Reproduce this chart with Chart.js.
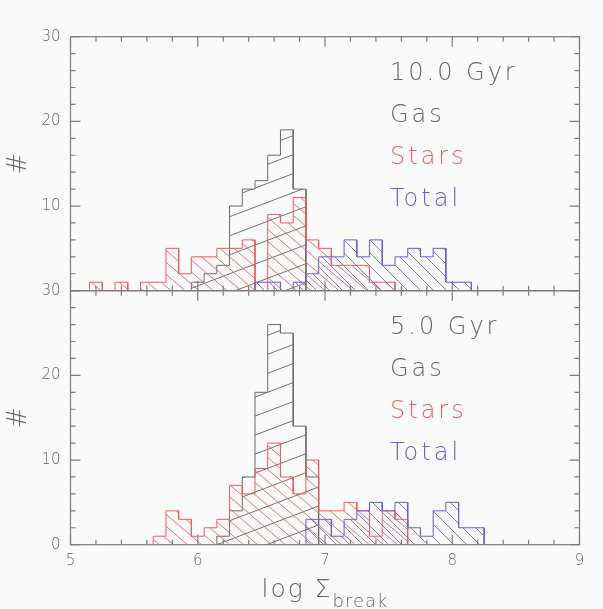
<!DOCTYPE html>
<html>
<head>
<meta charset="utf-8">
<script src="https://cdn.jsdelivr.net/npm/chart.js@4.4.1/dist/chart.umd.min.js"></script>
<style>
  html, body { margin: 0; padding: 0; background: #fafafa; }
  #wrap { position: relative; width: 603px; height: 609px; overflow: hidden; font-family: "DejaVu Sans", sans-serif; }
  #wrap canvas { position: absolute; left: 0; top: 0; }
  .lbl { position: absolute; left: 390px; font-size: 24px; line-height: 24px; letter-spacing: 3px; white-space: nowrap; font-weight: 200; }
  .gas { color: #666; }
  .stars { color: #f06060; }
  .total { color: #6060e6; }
  #xtitle { position: absolute; left: 325px; top: 576px; transform: translateX(-50%); font-size: 25px; line-height: 25px; color: #666; letter-spacing: 2px; white-space: nowrap; font-weight: 200; }
  #xtitle sub { font-size: 18px; vertical-align: -10px; letter-spacing: 1px; }
</style>
</head>
<body>
<div id="wrap">
  <canvas id="topChart" width="603" height="609"></canvas>
  <canvas id="bottomChart" width="603" height="609"></canvas>

  <div class="lbl gas" style="top:60px">10.0 Gyr</div>
  <div class="lbl gas" style="top:102px">Gas</div>
  <div class="lbl stars" style="top:144px">Stars</div>
  <div class="lbl total" style="top:186px">Total</div>

  <div class="lbl gas" style="top:314px">5.0 Gyr</div>
  <div class="lbl gas" style="top:356px">Gas</div>
  <div class="lbl stars" style="top:398px">Stars</div>
  <div class="lbl total" style="top:440px">Total</div>

  <div id="xtitle">log Σ<sub>break</sub></div>
</div>

<script>
// left edges of the histogram bins (width 0.1 in log Sigma)
const binLeft = [5.15, 5.25, 5.35, 5.45, 5.55, 5.65, 5.75, 5.85, 5.95, 6.05,
                 6.15, 6.25, 6.35, 6.45, 6.55, 6.65, 6.75, 6.85, 6.95, 7.05,
                 7.15, 7.25, 7.35, 7.45, 7.55, 7.65, 7.75, 7.85, 7.95, 8.05, 8.15];
const binWidth = 0.1;

// 10.0 Gyr panel
const gas10   = [0, 0, 0, 0, 0, 0, 0, 0, 1, 2, 3, 10, 12, 13, 16, 19, 12, 0, 0, 0, 0, 0, 0, 0, 0, 0, 0, 0, 0, 0, 0];
const stars10 = [1, 0, 1, 0, 1, 1, 5, 2, 4, 4, 5, 5, 6, 0, 9, 8, 11, 6, 5, 3, 3, 3, 1, 1, 0, 0, 0, 0, 0, 0, 0];
const total10 = [0, 0, 0, 0, 0, 0, 0, 0, 0, 0, 0, 0, 0, 1, 1, 0, 1, 2, 4, 4, 6, 4, 6, 3, 4, 5, 4, 5, 1, 1, 0];

// 5.0 Gyr panel
const gas5    = [0, 0, 0, 0, 0, 0, 0, 0, 0, 0, 1, 4, 8, 18, 26, 25, 14, 8, 0, 0, 0, 0, 0, 0, 0, 0, 0, 0, 0, 0, 0];
const stars5  = [0, 0, 0, 0, 0, 1, 4, 3, 1, 2, 3, 7, 6, 9, 12, 8, 6, 10, 4, 4, 5, 4, 1, 4, 3, 0, 0, 0, 0, 0, 0];
const total5  = [0, 0, 0, 0, 0, 0, 0, 0, 0, 0, 0, 0, 0, 0, 0, 0, 0, 3, 3, 1, 3, 4, 5, 4, 5, 2, 1, 4, 5, 2, 2];

const xTickLabels = [5, 6, 7, 8, 9];
const yTickLabels = [0, 10, 20, 30];

// histogram outline: two points per bin so the line goes up/down at bin edges
function outline(counts) {
    const first = counts.findIndex(v => v > 0);
    let last = counts.length - 1;
    while (counts[last] === 0) last--;
    const pts = [{ x: binLeft[first], y: 0 }];
    for (let i = first; i <= last; i++) {
        pts.push({ x: binLeft[i], y: counts[i] });
        pts.push({ x: binLeft[i] + binWidth, y: counts[i] });
    }
    pts.push({ x: binLeft[last] + binWidth, y: 0 });
    return pts;
}

// diagonal hatch fill, dir > 0 rises to the right
function hatch(ctx, color, w, h, dir) {
    const c = document.createElement('canvas');
    c.width = w; c.height = h;
    const g = c.getContext('2d');
    g.strokeStyle = color;
    g.lineWidth = 1;
    for (const off of [-h, 0, h]) {
        g.beginPath();
        if (dir > 0) { g.moveTo(0, h + off); g.lineTo(w, off); }
        else { g.moveTo(0, off); g.lineTo(w, h + off); }
        g.stroke();
    }
    return ctx.createPattern(c, 'repeat');
}

// box with inward ticks on all four sides
const framePlugin = {
    id: 'frame',
    afterDatasetsDraw(chart) {
        const { ctx, chartArea: a } = chart;
        const x = chart.scales.x, y = chart.scales.y;
        ctx.save();
        ctx.strokeStyle = '#7c7c7c';
        ctx.lineWidth = 1.2;
        ctx.strokeRect(a.left, a.top, a.right - a.left, a.bottom - a.top);
        ctx.beginPath();
        for (let k = 0; k <= 20; k++) {
            const px = x.getPixelForValue(5 + k * 0.2);
            const len = k % 5 === 0 ? 10 : 5;
            ctx.moveTo(px, a.bottom); ctx.lineTo(px, a.bottom - len);
            ctx.moveTo(px, a.top); ctx.lineTo(px, a.top + len);
        }
        for (let v = 0; v <= 30; v += 2) {
            const py = y.getPixelForValue(v);
            const len = v % 10 === 0 ? 10 : 5;
            ctx.moveTo(a.left, py); ctx.lineTo(a.left + len, py);
            ctx.moveTo(a.right, py); ctx.lineTo(a.right - len, py);
        }
        ctx.stroke();
        ctx.restore();
    }
};

function makePanel(id, gas, stars, total, isBottom) {
    const ctx = document.getElementById(id).getContext('2d');
    return new Chart(ctx, {
        type: 'line',
        data: {
            datasets: [
                {
                    label: 'Total',
                    data: outline(total),
                    borderColor: '#5e5ee6',
                    backgroundColor: hatch(ctx, 'rgba(110,110,230,0.9)', 13, 13, -1),
                    borderWidth: 1,
                    pointRadius: 0,
                    fill: 'origin',
                    tension: 0
                },
                {
                    label: 'Stars',
                    data: outline(stars),
                    borderColor: '#f05a5a',
                    backgroundColor: hatch(ctx, 'rgba(238,100,100,0.9)', 14, 12, -1),
                    borderWidth: 1,
                    pointRadius: 0,
                    fill: 'origin',
                    tension: 0
                },
                {
                    label: 'Gas',
                    data: outline(gas),
                    borderColor: '#6a6a6a',
                    backgroundColor: hatch(ctx, 'rgba(100,100,100,0.9)', 50, 19, 1),
                    borderWidth: 1,
                    pointRadius: 0,
                    fill: 'origin',
                    tension: 0
                }
            ]
        },
        options: {
            responsive: false,
            animation: false,
            layout: {
                padding: isBottom
                    ? { left: 0, right: 23.5, top: 290.7, bottom: 0 }
                    : { left: 0, right: 23.5, top: 36.7, bottom: 318.3 }
            },
            plugins: { legend: { display: false }, tooltip: { enabled: false } },
            scales: {
                x: {
                    type: 'linear',
                    min: 5,
                    max: 9,
                    display: isBottom,
                    afterBuildTicks: s => { s.ticks = xTickLabels.map(v => ({ value: v })); },
                    afterFit: s => { s.height = isBottom ? 64.3 : 0; },
                    grid: { display: false, drawTicks: false },
                    border: { display: false },
                    ticks: { padding: 7, color: '#666', font: { family: 'DejaVu Sans', size: 15, weight: '200' } }
                },
                y: {
                    min: 0,
                    max: 30,
                    afterBuildTicks: s => { s.ticks = yTickLabels.map(v => ({ value: v })); },
                    afterFit: s => { s.width = 70.5; },
                    grid: { display: false, drawTicks: false },
                    border: { display: false },
                    ticks: {
                        padding: 10,
                        color: '#666',
                        font: { family: 'DejaVu Sans', size: 15, weight: '200' },
                        callback: v => (!isBottom && v === 0) ? '' : v
                    },
                    title: {
                        display: true,
                        text: '#',
                        color: '#666',
                        font: { family: 'DejaVu Sans', size: 26, weight: '200' },
                        padding: { top: 4, bottom: 0 }
                    }
                }
            }
        },
        plugins: [framePlugin]
    });
}

makePanel('topChart', gas10, stars10, total10, false);
makePanel('bottomChart', gas5, stars5, total5, true);
</script>
</body>
</html>
